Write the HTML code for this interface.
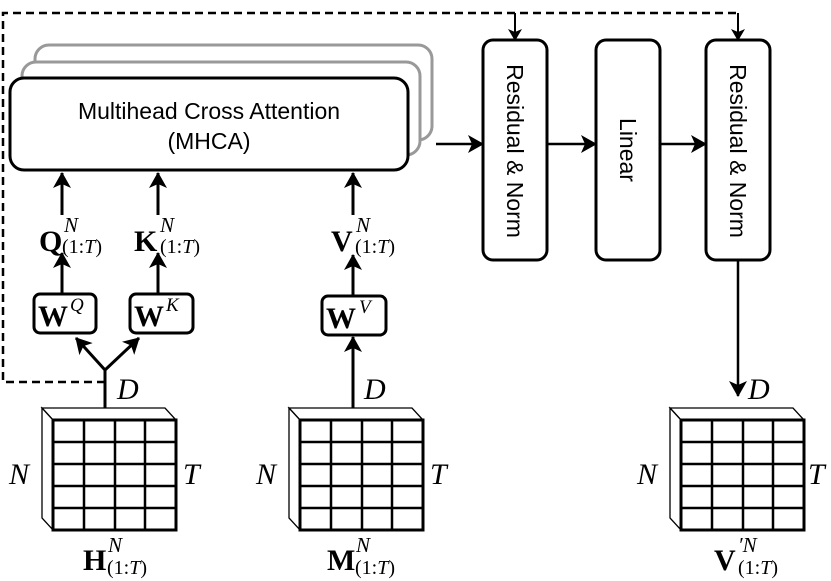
<!DOCTYPE html>
<html><head><meta charset="utf-8"><style>
html,body{margin:0;padding:0;background:#fff;}
svg{display:block;}
.s{font-family:"Liberation Sans",sans-serif;}
.m{font-family:"Liberation Serif",serif;}
</style></head><body>
<svg width="831" height="581" viewBox="0 0 831 581" xmlns="http://www.w3.org/2000/svg">
<defs>
<marker id="a" markerWidth="12" markerHeight="14" refX="11" refY="7" orient="auto" markerUnits="userSpaceOnUse">
<path d="M0,0 L12,7 L0,14 L3,7 z" fill="#000"/></marker>
<marker id="b" markerWidth="16" markerHeight="18" refX="15" refY="9" orient="auto" markerUnits="userSpaceOnUse">
<path d="M0,0 L16,9 L0,18 L4,9 z" fill="#000"/></marker>
<g id="mat">
<path d="M-11,-12 L112,-12 L123,0 L0,0 z" fill="#fff" stroke="#000" stroke-width="1.3"/>
<path d="M-11,-12 L0,0 L0,110 L-11,98 z" fill="#fff" stroke="#000" stroke-width="1.3"/>
<rect x="0" y="0" width="123" height="110" fill="#fff" stroke="#000" stroke-width="3"/>
<g stroke="#000" stroke-width="2.5">
<line x1="31" y1="0" x2="31" y2="110"/><line x1="62" y1="0" x2="62" y2="110"/><line x1="92" y1="0" x2="92" y2="110"/>
<line x1="0" y1="22" x2="123" y2="22"/><line x1="0" y1="44" x2="123" y2="44"/><line x1="0" y1="66" x2="123" y2="66"/><line x1="0" y1="88" x2="123" y2="88"/>
</g>
</g>
</defs>

<path d="M105,382 L3,382 L3,13 L738,13" fill="none" stroke="#000" stroke-width="2.5" stroke-dasharray="8,5"/>
<line x1="515" y1="13" x2="515" y2="40" stroke="#000" stroke-width="2" marker-end="url(#a)"/>
<line x1="738" y1="13" x2="738" y2="40" stroke="#000" stroke-width="2" marker-end="url(#a)"/>

<rect x="35" y="45" width="397" height="95" rx="14" fill="#fff" stroke="#999" stroke-width="3"/>
<rect x="22" y="62" width="398" height="93" rx="14" fill="#fff" stroke="#999" stroke-width="3"/>
<rect x="10" y="78" width="398" height="92" rx="14" fill="#fff" stroke="#000" stroke-width="3"/>
<text class="s" x="209" y="119" font-size="23" text-anchor="middle">Multihead Cross Attention</text>
<text class="s" x="209" y="149" font-size="23" text-anchor="middle">(MHCA)</text>

<rect x="483" y="40" width="64" height="220" rx="10" fill="#fff" stroke="#000" stroke-width="3"/>
<rect x="596" y="40" width="64" height="220" rx="10" fill="#fff" stroke="#000" stroke-width="3"/>
<rect x="706" y="40" width="64" height="220" rx="10" fill="#fff" stroke="#000" stroke-width="3"/>
<text class="s" font-size="23" text-anchor="middle" transform="translate(507,151) rotate(90)">Residual &amp; Norm</text>
<text class="s" font-size="23" text-anchor="middle" transform="translate(620,150) rotate(90)">Linear</text>
<text class="s" font-size="23" text-anchor="middle" transform="translate(730,151) rotate(90)">Residual &amp; Norm</text>
<g stroke="#000" stroke-width="2.5">
<line x1="436" y1="144" x2="483" y2="144" marker-end="url(#b)"/>
<line x1="547" y1="144" x2="596" y2="144" marker-end="url(#b)"/>
<line x1="660" y1="144" x2="706" y2="144" marker-end="url(#b)"/>
<line x1="738" y1="260" x2="738" y2="396" marker-end="url(#b)"/>
</g>

<g stroke="#000" stroke-width="3">
<line x1="62" y1="215" x2="62" y2="173" marker-end="url(#b)"/>
<line x1="158" y1="215" x2="158" y2="173" marker-end="url(#b)"/>
<line x1="353" y1="215" x2="353" y2="173" marker-end="url(#b)"/>
<line x1="62" y1="293" x2="62" y2="253" marker-end="url(#b)"/>
<line x1="158" y1="293" x2="158" y2="253" marker-end="url(#b)"/>
<line x1="353" y1="295" x2="353" y2="255" marker-end="url(#b)"/>
<line x1="353" y1="408" x2="353" y2="337" marker-end="url(#b)"/>
<line x1="105" y1="408" x2="105" y2="370"/>
<line x1="105" y1="370" x2="76" y2="338" marker-end="url(#b)"/>
<line x1="105" y1="370" x2="139" y2="338" marker-end="url(#b)"/>
</g>

<g class="m">
<text x="39" y="251" font-size="30" font-weight="bold">Q</text>
<text x="64" y="232" font-size="21" font-style="italic">N</text>
<text x="62" y="253" font-size="20">(1:<tspan font-style="italic">T</tspan>)</text>
<text x="134" y="251" font-size="30" font-weight="bold">K</text>
<text x="160" y="232" font-size="21" font-style="italic">N</text>
<text x="160" y="253" font-size="20">(1:<tspan font-style="italic">T</tspan>)</text>
<text x="331" y="251" font-size="30" font-weight="bold">V</text>
<text x="356" y="232" font-size="21" font-style="italic">N</text>
<text x="355" y="253" font-size="20">(1:<tspan font-style="italic">T</tspan>)</text>
</g>

<rect x="34" y="294" width="62" height="39" rx="6" fill="#fff" stroke="#000" stroke-width="3"/>
<rect x="130" y="294" width="63" height="39" rx="6" fill="#fff" stroke="#000" stroke-width="3"/>
<rect x="322" y="296" width="64" height="39" rx="6" fill="#fff" stroke="#000" stroke-width="3"/>
<g class="m">
<text x="38" y="326" font-size="30" font-weight="bold">W</text><text x="70" y="311" font-size="19" font-style="italic">Q</text>
<text x="134" y="326" font-size="30" font-weight="bold">W</text><text x="166" y="311" font-size="19" font-style="italic">K</text>
<text x="326" y="328" font-size="30" font-weight="bold">W</text><text x="359" y="313" font-size="19" font-style="italic">V</text>
</g>

<use href="#mat" x="53" y="420"/>
<use href="#mat" x="300" y="420"/>
<use href="#mat" x="681" y="420"/>

<g class="m" font-style="italic" font-size="30">
<text x="117" y="399">D</text>
<text x="364" y="399">D</text>
<text x="748" y="399">D</text>
<text x="9" y="484">N</text><text x="183" y="484">T</text>
<text x="256" y="484">N</text><text x="430" y="484">T</text>
<text x="637" y="484">N</text><text x="808" y="484">T</text>
</g>
<g class="m">
<text x="83" y="570" font-size="30" font-weight="bold">H</text>
<text x="108" y="552" font-size="21" font-style="italic">N</text>
<text x="107" y="574" font-size="20">(1:<tspan font-style="italic">T</tspan>)</text>
<text x="327" y="570" font-size="30" font-weight="bold">M</text>
<text x="356" y="552" font-size="21" font-style="italic">N</text>
<text x="355" y="574" font-size="20">(1:<tspan font-style="italic">T</tspan>)</text>
<text x="714" y="570" font-size="30" font-weight="bold">V</text>
<text x="738" y="552" font-size="21" font-style="italic">′N</text>
<text x="738" y="574" font-size="20">(1:<tspan font-style="italic">T</tspan>)</text>
</g>
</svg>
</body></html>
